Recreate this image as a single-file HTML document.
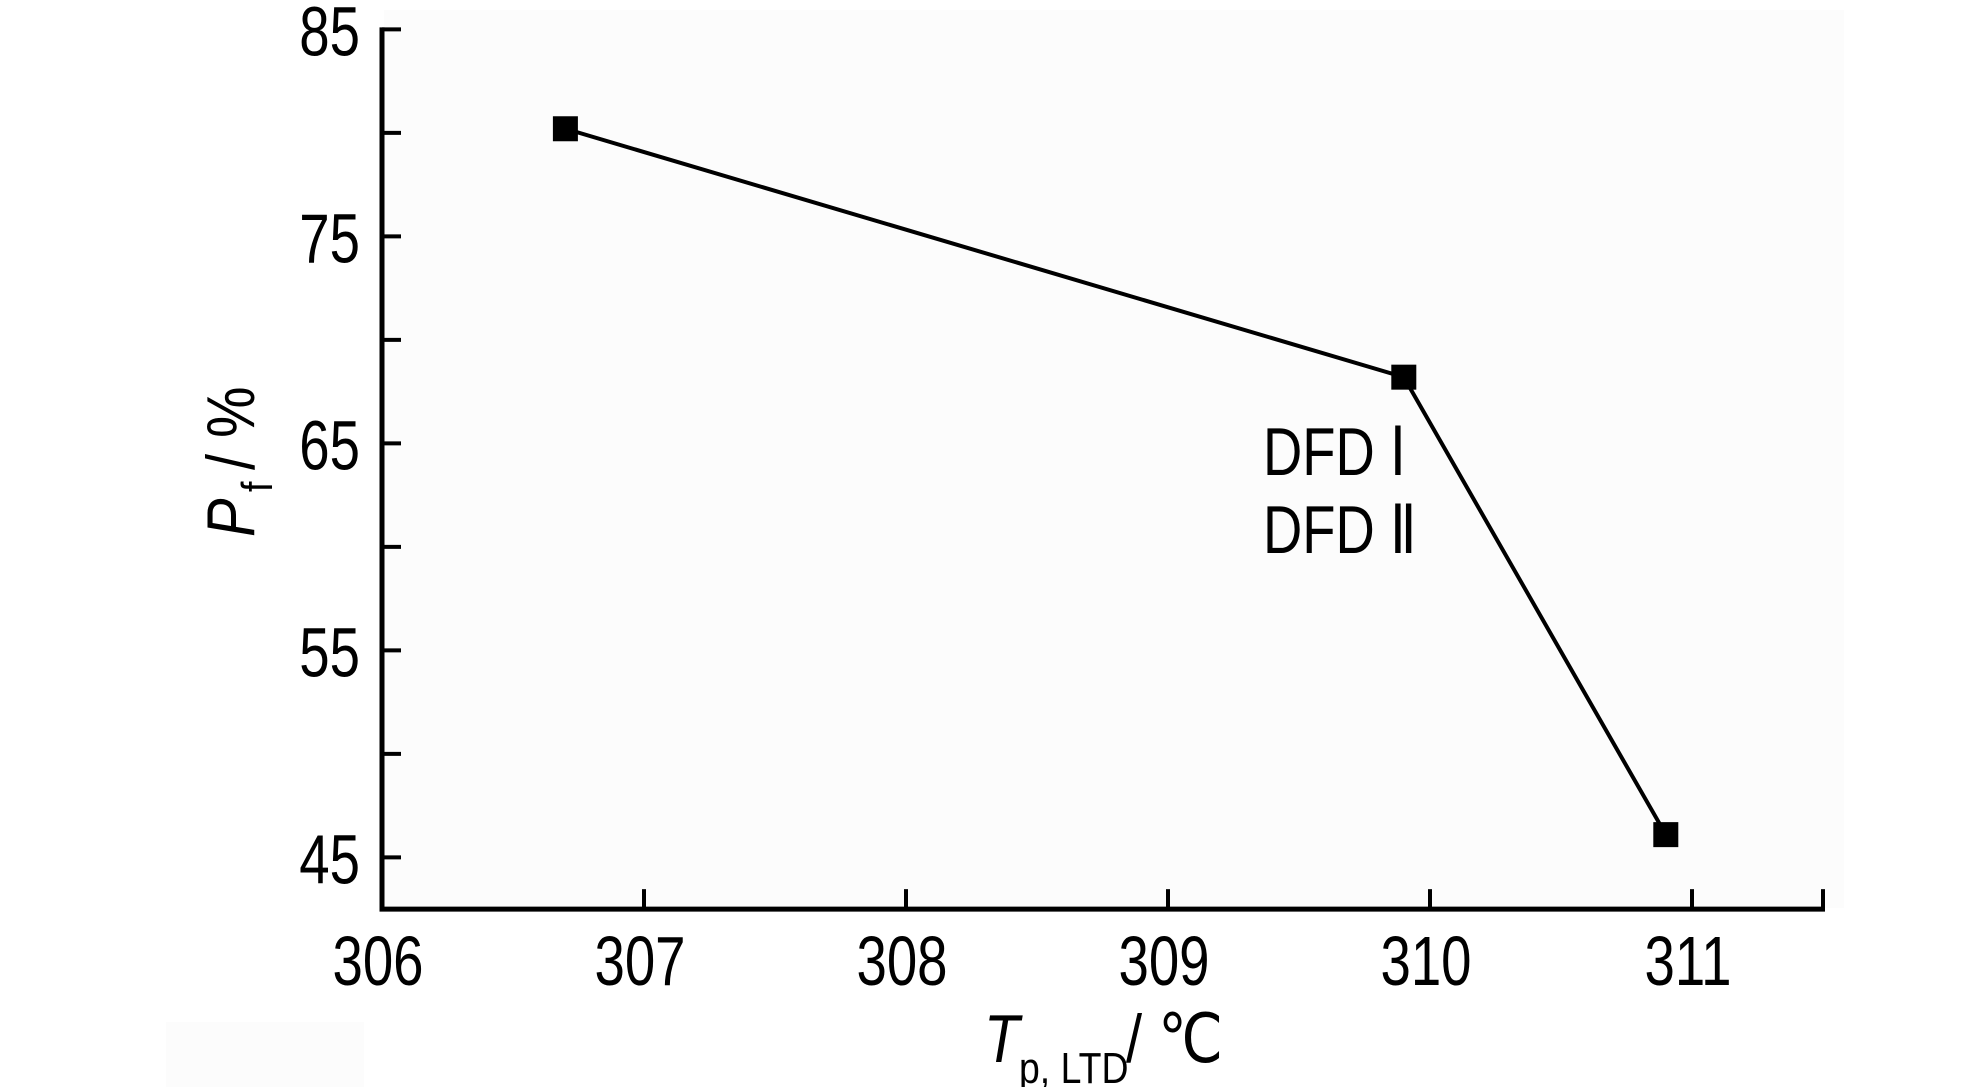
<!DOCTYPE html>
<html><head><meta charset="utf-8"><style>
html,body{margin:0;padding:0;background:#fff;}
svg{display:block;}
text{font-family:"Liberation Sans",sans-serif;fill:#000;}
</style></head><body>
<svg id="chart" width="1984" height="1087" viewBox="0 0 1984 1087" xmlns="http://www.w3.org/2000/svg">
<rect x="384" y="10" width="1460" height="898" fill="#fcfcfc"/>
<rect x="166" y="1022" width="198" height="65" fill="#fcfcfc"/>
<g id="axes"></g>
<g id="marks"></g>
<text x="0" y="0" font-size="68" transform="translate(1263,475) scale(0.8,1)">DFD Ⅰ</text>
<text x="0" y="0" font-size="68" transform="translate(1263,553) scale(0.8,1)">DFD Ⅱ</text>
<g>
<text font-size="68" font-style="italic" transform="translate(984,1062) scale(0.85,1)">T</text>
<text font-size="44" transform="translate(1019,1083) scale(0.85,1)">p, LTD</text>
<text font-size="68" transform="translate(1126,1062) scale(0.85,1)">/ ℃</text>
</g>
<g>
<text font-size="68" font-style="italic" transform="translate(254,537) rotate(-90) scale(0.85,1)">P</text>
<text font-size="44" transform="translate(272,492) rotate(-90) scale(0.85,1)">f</text>
<text font-size="68" transform="translate(254,470) rotate(-90) scale(0.85,1)">/ %</text>
</g>
</svg>
<script>
const xValues = [306.7, 309.9, 310.9];
const yValues = [80.2, 68.2, 46.1];
const xTicks = [306, 307, 308, 309, 310, 311];
const yTicks = [85, 75, 65, 55, 45];
const yMinorTicks = [80, 70, 60, 50];

const X0 = 382, XPX = 262, XMIN = 306, XMAX = 311.5;
const Y0 = 29.4, YPX = 20.7, YMAX = 85, YMIN = 42.5;
const sx = v => X0 + (v - XMIN) * XPX;
const sy = v => Y0 + (YMAX - v) * YPX;
const NS = 'http://www.w3.org/2000/svg';
const axes = document.getElementById('axes');
const marks = document.getElementById('marks');
function mk(tag, attrs, parent) {
  const e = document.createElementNS(NS, tag);
  for (const k in attrs) e.setAttribute(k, attrs[k]);
  parent.appendChild(e);
  return e;
}
const yAxis = mk('line', {x1: sx(XMIN), y1: sy(YMAX) - 2, x2: sx(XMIN), y2: sy(YMIN), stroke: '#000', 'stroke-width': 5}, axes);


const xAxis = mk('line', {x1: sx(XMIN) - 2.5, y1: sy(YMIN), x2: sx(XMAX) + 2, y2: sy(YMIN), stroke: '#000', 'stroke-width': 5}, axes);


const endTick = mk('line', {x1: sx(XMAX), y1: sy(YMIN), x2: sx(XMAX), y2: sy(YMIN) - 20, stroke: '#000', 'stroke-width': 4}, axes);


yTicks.concat(yMinorTicks).forEach(v => {
  const t = mk('line', {x1: sx(XMIN), y1: sy(v), x2: sx(XMIN) + 19, y2: sy(v), stroke: '#000', 'stroke-width': 4}, axes);
  
  
});
yTicks.forEach(v => {
  const t = mk('text', {'font-size': 70, 'text-anchor': 'end', transform: `translate(${sx(XMIN) - 22},${sy(v) + 26}) scale(0.78,1)`}, axes);
  t.textContent = v;
  
  
});
xTicks.forEach(v => {
  if (v !== XMIN) {
    const t = mk('line', {x1: sx(v), y1: sy(YMIN), x2: sx(v), y2: sy(YMIN) - 20, stroke: '#000', 'stroke-width': 4}, axes);
    
    
  }
  const l = mk('text', {'font-size': 70, 'text-anchor': 'middle', transform: `translate(${sx(v) - 4},${sy(YMIN) + 76}) scale(0.78,1)`}, axes);
  l.textContent = v;
  
  
});
const pts = xValues.map((x, i) => sx(x) + ',' + sy(yValues[i])).join(' ');
const line = mk('polyline', {points: pts, fill: 'none', stroke: '#000', 'stroke-width': 4}, marks);


xValues.forEach((x, i) => {
  const r = mk('rect', {x: sx(x) - 12.5, y: sy(yValues[i]) - 12.5, width: 25, height: 25, fill: '#000'}, marks);
  
  
});
</script>
</body></html>
